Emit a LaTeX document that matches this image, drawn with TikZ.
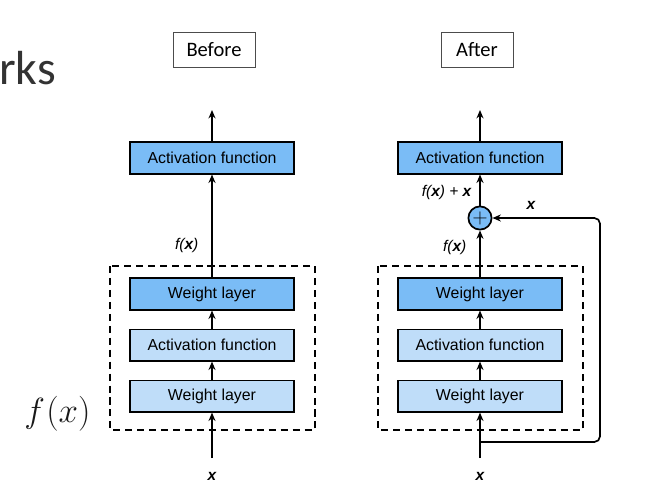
\documentclass[tikz,border=0pt]{standalone}
\usepackage{fontspec}
\setmainfont{Liberation Sans}
\newfontfamily\calibri{Carlito}
\usetikzlibrary{positioning,arrows.meta}
\definecolor{layerdark}{HTML}{7ABCF6}
\definecolor{layerlight}{HTML}{BFDDF9}
\tikzset{
    layer/.style={draw=black, line width=1.3pt, minimum width=4.1cm, minimum height=0.78cm,
        inner sep=0pt, font=\fontsize{11.3}{13}\selectfont},
    dark layer/.style={layer, fill=layerdark},
    light layer/.style={layer, fill=layerlight},
    sumnode/.style={draw=black, line width=1.2pt, circle, fill=layerdark, minimum size=0.58cm,
        inner sep=0pt, font=\fontsize{15}{15}\selectfont},
    tag/.style={draw=black!70, line width=0.6pt, minimum width=2.05cm, minimum height=0.87cm,
        font=\calibri\fontsize{14.6}{16}\selectfont},
    lbl/.style={font=\fontsize{11}{13}\selectfont\itshape, inner sep=1pt},
    flow/.style={line width=1.2pt, -{Stealth[length=6pt, width=5pt]}}
}

\begin{document}
\begin{tikzpicture}[x=0.025cm, y=-0.025cm]
        \useasboundingbox (0,0) rectangle (660,488);
        % side texts
        \node[anchor=base west, inner sep=0pt, text=black!80, font=\calibri\fontsize{34}{40}\selectfont] (title) at (-1,84) {rks};
        \node[anchor=base west, inner sep=0pt, text=black!90, font=\fontsize{28}{30}\selectfont] (fx) at (24,422) {$f\hspace{1pt}(x)$};
        % Before
        \node[tag] (before) at (214,50) {Before};
        \node[dark layer] (actA) at (212,158) {Activation function};
        \node[dark layer] (wtA) at (212,294) {Weight layer};
        \node[light layer, below=0.45cm of wtA] (midA) {Activation function};
        \node[light layer, below=0.45cm of midA] (inA) {Weight layer};
        \draw[line width=1.3pt, dash pattern=on 5pt off 3.5pt] (110,266) rectangle (315,430);
        \coordinate (topA) at (212,110);
        \coordinate (srcA) at (212,458);
        \node[lbl] (xA) at (212,476) {\textbf{x}};
        \draw[flow] (srcA) -- (inA);
        \draw[flow] (inA) -- (midA);
        \draw[flow] (midA) -- (wtA);
        \draw[flow] (wtA) -- (actA);
        \draw[flow] (actA) -- (topA);
        \node[lbl, left] (fxA) at (200,245) {f(\textbf{x})};
        % After
        \node[tag, minimum width=1.8cm] (after) at (477,50) {After};
        \node[dark layer] (actB) at (480,158) {Activation function};
        \node[sumnode] (sum) at (480,218) {$+$};
        \node[dark layer] (wtB) at (480,294) {Weight layer};
        \node[light layer, below=0.45cm of wtB] (midB) {Activation function};
        \node[light layer, below=0.45cm of midB] (inB) {Weight layer};
        \draw[line width=1.3pt, dash pattern=on 5pt off 3.5pt] (378,266) rectangle (583,430);
        \coordinate (topB) at (480,110);
        \coordinate (srcB) at (480,458);
        \coordinate (split) at (480,442);
        \node[lbl] (xB) at (480,476) {\textbf{x}};
        \draw[flow] (srcB) -- (inB);
        \draw[flow] (inB) -- (midB);
        \draw[flow] (midB) -- (wtB);
        \draw[flow] (wtB) -- (sum);
        \draw[flow] (sum) -- (actB);
        \draw[flow] (actB) -- (topB);
        \draw[flow, rounded corners=4pt] (split) -- (600,442) |- (sum);
        % labels
        \node[lbl, left] (fxB) at (468,247) {f(\textbf{x})};
        \node[lbl, left] (fxsum) at (473,192) {f(\textbf{x}) + \textbf{x}};
        \node[lbl] (xskip) at (531,205) {\textbf{x}};
    \end{tikzpicture}
\end{document}
